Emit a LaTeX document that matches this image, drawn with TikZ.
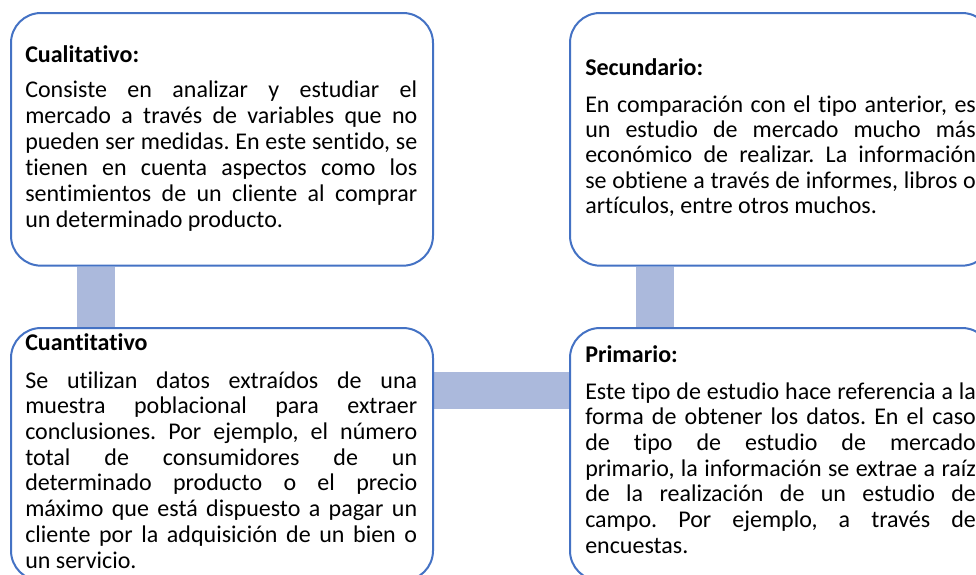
\documentclass[tikz,border=0pt]{standalone}
\usepackage{fontspec}
\setmainfont{Carlito}[Ligatures={NoCommon},RawFeature={-liga;-clig;-dlig}]
\usetikzlibrary{backgrounds}
\definecolor{bordc}{RGB}{68,114,196}
\definecolor{barc}{RGB}{171,185,220}
\newcommand\jl[1]{\makebox[\linewidth][s]{#1}\par}
\newcommand\bodyfont[1]{\fontsize{18}{#1}\selectfont\frenchspacing\lineskiplimit=-50pt\lineskip=0pt}
\begin{document}
\begin{tikzpicture}[x=0.75pt,y=-0.75pt,
  box/.style={draw=bordc, line width=1.5pt, fill=white, rounded corners=22.5pt,
    minimum width=316.5pt, minimum height=189.5pt, inner sep=0pt, anchor=north west},
  head/.style={anchor=base west, inner sep=0pt, font=\fontsize{18}{19.5}\selectfont\bfseries},
  body/.style={anchor=base west, inner sep=0pt},
  vbar/.style={draw=barc, line width=28.5pt},
  hbar/.style={draw=barc, line width=27.75pt}]
\useasboundingbox (0,0) rectangle (976,575);
\clip (0,0) rectangle (976,575);

% boxes
\node[box] (tl) at (10,12) {};
\node[box] (tr) at (569,12) {};
\node[box] (bl) at (10,327) {};
\node[box] (br) at (569,327) {};

% connectors
\begin{scope}[on background layer]
\draw[vbar] ([xshift=64.5pt]tl.south west) -- ([xshift=64.5pt]bl.north west);
\draw[vbar] ([xshift=64.5pt]tr.south west) -- ([xshift=64.5pt]br.north west);
\draw[hbar] ([yshift=-47.6pt]bl.north east) -- ([yshift=-47.6pt]br.north west);
\end{scope}

% top left
\node[head] (tlh) at (25,62) {Cualitativo:};
\node[body] (tlb) at (25,97) {\parbox[t]{294pt}{\bodyfont{19.5pt}%
\jl{Consiste en analizar y estudiar el}%
\jl{mercado a través de variables que no}%
\jl{pueden ser medidas. En este sentido, se}%
\jl{tienen en cuenta aspectos como los}%
\jl{sentimientos de un cliente al comprar}%
un determinado producto.}};

% top right
\node[head] (trh) at (585,75) {Secundario:};
\node[body] (trb) at (585,112) {\parbox[t]{293pt}{\bodyfont{19.05pt}%
\jl{En comparación con el tipo anterior, es}%
\jl{un estudio de mercado mucho más}%
\jl{económico de realizar. La información}%
\jl{se obtiene a través de informes, libros o}%
artículos, entre otros muchos.}};

% bottom left
\node[head] (blh) at (25,350) {Cuantitativo};
\node[body] (blb) at (25,388) {\parbox[t]{294pt}{\bodyfont{19.3pt}%
\jl{Se utilizan datos extraídos de una}%
\jl{muestra poblacional para extraer}%
\jl{conclusiones. Por ejemplo, el número}%
\jl{total de consumidores de un}%
\jl{determinado producto o el precio}%
\jl{máximo que está dispuesto a pagar un}%
\jl{cliente por la adquisición de un bien o}%
un servicio.}};

% bottom right
\node[head] (brh) at (585,362) {Primario:};
\node[body] (brb) at (585,399) {\parbox[t]{293pt}{\bodyfont{19.3pt}%
\jl{Este tipo de estudio hace referencia a la}%
\jl{forma de obtener los datos. En el caso}%
\jl{de tipo de estudio de mercado}%
\jl{primario, la información se extrae a raíz}%
\jl{de la realización de un estudio de}%
\jl{campo. Por ejemplo, a través de}%
encuestas.}};
\end{tikzpicture}
\end{document}
